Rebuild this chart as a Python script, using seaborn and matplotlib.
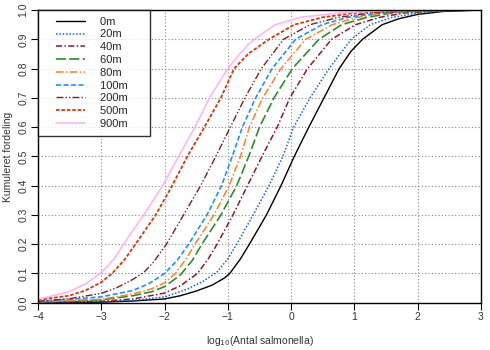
import matplotlib
matplotlib.use("Agg")
import matplotlib.pyplot as plt
import seaborn as sns
import pandas as pd
from matplotlib.legend_handler import HandlerLine2D

labels = ["0m", "20m", "40m", "60m", "80m", "100m", "200m", "500m", "900m"]

# points: log10(count) and cumulative share
x_0m = [-4, -3, -2.5, -2, -1.75, -1.5, -1.25, -1.05, -0.97, -0.8, -0.66, -0.39, -0.16, 0.05, 0.28, 0.52, 0.76, 0.95, 1.13, 1.44, 1.7, 2.0, 2.4, 3]
y_0m = [0.0, 0.002, 0.006, 0.013, 0.024, 0.04, 0.06, 0.085, 0.1, 0.15, 0.2, 0.3, 0.4, 0.5, 0.6, 0.7, 0.8, 0.86, 0.9, 0.95, 0.97, 0.985, 0.995, 1.0]

x_20m = [-4, -3, -2.5, -2, -1.66, -1.4, -1.17, -1.0, -0.86, -0.6, -0.35, -0.13, 0.04, 0.3, 0.6, 0.95, 1.25, 1.6, 2.0, 2.5, 3]
y_20m = [0.0, 0.003, 0.008, 0.02, 0.045, 0.072, 0.105, 0.15, 0.2, 0.3, 0.4, 0.5, 0.6, 0.7, 0.8, 0.9, 0.95, 0.975, 0.99, 0.998, 1.0]

x_40m = [-4, -3, -2.5, -2, -1.75, -1.48, -1.31, -1.17, -0.92, -0.69, -0.46, -0.22, -0.02, 0.26, 0.64, 1.02, 1.4, 1.8, 2.4, 3]
y_40m = [0.001, 0.005, 0.013, 0.033, 0.058, 0.1, 0.15, 0.2, 0.3, 0.4, 0.5, 0.6, 0.7, 0.8, 0.9, 0.95, 0.975, 0.99, 0.998, 1.0]

x_60m = [-4, -3, -2.5, -2.2, -2, -1.75, -1.56, -1.41, -1.11, -0.86, -0.67, -0.5, -0.27, 0.02, 0.44, 0.8, 1.2, 1.6, 2.2, 3]
y_60m = [0.002, 0.01, 0.024, 0.038, 0.055, 0.095, 0.145, 0.2, 0.3, 0.4, 0.5, 0.6, 0.7, 0.8, 0.9, 0.95, 0.975, 0.99, 0.998, 1.0]

x_80m = [-4, -3, -2.5, -2.2, -2, -1.83, -1.66, -1.52, -1.22, -0.98, -0.8, -0.66, -0.45, -0.16, 0.23, 0.65, 1.05, 1.5, 2.1, 3]
y_80m = [0.003, 0.012, 0.03, 0.048, 0.068, 0.1, 0.15, 0.2, 0.3, 0.4, 0.5, 0.6, 0.7, 0.8, 0.9, 0.95, 0.975, 0.99, 0.998, 1.0]

x_100m = [-4, -3, -2.5, -2.25, -2, -1.8, -1.62, -1.33, -1.1, -0.93, -0.77, -0.56, -0.3, 0.07, 0.49, 0.9, 1.4, 2.0, 3]
y_100m = [0.004, 0.02, 0.042, 0.065, 0.1, 0.145, 0.2, 0.3, 0.4, 0.5, 0.6, 0.7, 0.8, 0.9, 0.95, 0.975, 0.99, 0.998, 1.0]

x_200m = [-4, -3.5, -3, -2.75, -2.5, -2.33, -2.17, -1.97, -1.7, -1.43, -1.19, -0.96, -0.73, -0.47, -0.12, 0.3, 0.75, 1.25, 2.0, 3]
y_200m = [0.005, 0.014, 0.032, 0.052, 0.08, 0.103, 0.14, 0.2, 0.3, 0.4, 0.5, 0.6, 0.7, 0.8, 0.9, 0.95, 0.975, 0.99, 0.998, 1.0]

x_500m = [-4, -3.51, -3.25, -3, -2.83, -2.63, -2.46, -2.14, -1.88, -1.64, -1.37, -1.11, -0.9, -0.68, -0.35, 0.05, 0.5, 1.0, 1.8, 3]
y_500m = [0.01, 0.024, 0.042, 0.07, 0.1, 0.148, 0.2, 0.3, 0.4, 0.5, 0.6, 0.7, 0.8, 0.85, 0.9, 0.95, 0.975, 0.99, 0.998, 1.0]

x_900m = [-4, -3.51, -3.25, -3.02, -2.9, -2.78, -2.65, -2.33, -2.03, -1.78, -1.52, -1.29, -1.0, -0.82, -0.66, -0.52, -0.25, 0.15, 0.75, 1.5, 3]
y_900m = [0.012, 0.038, 0.064, 0.1, 0.125, 0.155, 0.2, 0.3, 0.4, 0.5, 0.6, 0.7, 0.8, 0.848, 0.886, 0.91, 0.95, 0.975, 0.99, 0.998, 1.0]

curves_x = [x_0m, x_20m, x_40m, x_60m, x_80m, x_100m, x_200m, x_500m, x_900m]
curves_y = [y_0m, y_20m, y_40m, y_60m, y_80m, y_100m, y_200m, y_500m, y_900m]

colors = ["#000000", "#1060E0", "#8B1A2A", "#2E8B2E", "#FF7F2A",
          "#1E90FF", "#7F1F1F", "#D03A10", "#FFB6F5"]
styles = ["-", (0, (1, 1.2)), (0, (4, 1.5, 1, 1.5)), (0, (6, 2)), (0, (5, 1.5, 1, 1.5)),
          (0, (3, 1.5)), (0, (5, 1.5, 1, 1.5, 1, 1.5)), (0, (2, 1)), "-"]
widths = [1.0, 1.1, 1.1, 1.2, 1.1, 1.2, 1.0, 1.3, 1.2]

sns.set_theme(style="white")
plt.rcParams["font.family"] = ["Liberation Sans", "DejaVu Sans"]

fig = plt.figure(figsize=(4.9, 3.5), dpi=100)
ax = fig.add_axes([0.0776, 0.135, 0.9039, 0.8364])

for lab, xs, ys, c, ls, lw in zip(labels, curves_x, curves_y, colors, styles, widths):
    df = pd.DataFrame({"x": xs, "y": ys})
    sns.lineplot(data=df, x="x", y="y", ax=ax, color=c, linestyle=ls,
                 linewidth=lw, label=lab, sort=False, estimator=None)

ax.set_xlim(-4, 3)
ax.set_ylim(0, 1)
ax.set_xticks(range(-4, 4))
ax.set_yticks([i / 10 for i in range(11)])
ax.set_yticklabels([f"{i/10:.1f}" for i in range(11)], rotation=90, va="center")
ax.grid(True, color="#888888", linestyle=(0, (1, 2)), linewidth=0.8)
for s in ax.spines.values():
    s.set_color("black")
    s.set_linewidth(1.0)
ax.tick_params(axis="both", which="both", direction="out", length=5, width=0.8,
               colors="black", labelsize=7.5, pad=2, bottom=True, left=True)
ax.tick_params(axis="both", labelcolor="#333333")
ax.set_xlabel("log$_{10}$(Antal salmonella)", fontsize=7.5, color="#333333", labelpad=8)
ax.set_ylabel("Kumuleret fordeling", fontsize=7.5, color="#333333", labelpad=4)


class ShiftedLine(HandlerLine2D):
    def create_artists(self, legend, orig_handle, xdescent, ydescent, width,
                       height, fontsize, trans):
        off = 8
        return super().create_artists(legend, orig_handle, xdescent - off, ydescent,
                                      width - off, height, fontsize, trans)


handles, labs = ax.get_legend_handles_labels()
labs = [l + "\u00a0" * 5 for l in labs]
leg = ax.legend(handles, labs, loc="upper left", frameon=True, fancybox=False, fontsize=8,
                handlelength=3.6, handletextpad=1.35, borderpad=0.6,
                labelspacing=0.25, borderaxespad=0,
                handler_map={h: ShiftedLine() for h in handles})
leg.get_frame().set_edgecolor("black")
leg.get_frame().set_linewidth(1.0)

fig.savefig("out.png", dpi=100, facecolor="white")
